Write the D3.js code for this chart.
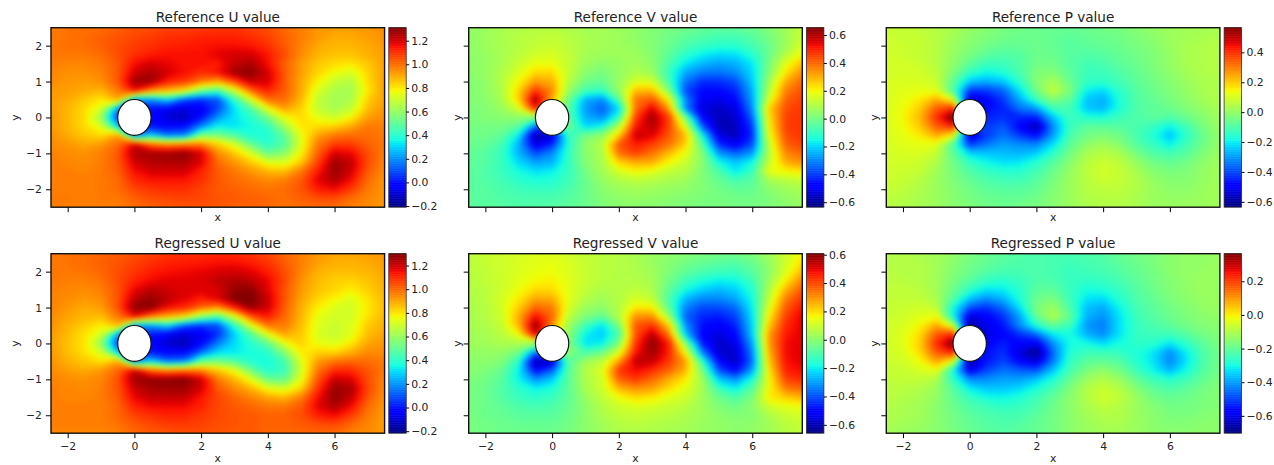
<!DOCTYPE html>
<meta charset="utf-8">
<style>
  body { margin: 0; background: #fff; }
  text { font-family: "DejaVu Sans", sans-serif; fill: #222; }
</style>
<script src="https://d3js.org/d3.v7.min.js"></script>
<div id="my_dataviz"></div>
<script>

// sample positions of the field, rows run top to bottom
var xCoords = [-2.5,-2,-1.5,-1,-.5,0,.5,1,1.5,2,2.5,3,3.5,4,4.5,5,5.5,6,6.5,7,7.5];
var yCoords = [2.5,2.25,2,1.75,1.5,1.25,1,.75,.5,.25,0,-.25,-.5,-.75,-1,-1.25,-1.5,-1.75,-2,-2.25,-2.5];
var xTicks = [-2,0,2,4,6];
var yTicks = [-2,-1,0,1,2];
var cylinder = {x: 0, y: 0, r: 0.5};

var titles = ["Reference U value","Reference V value","Reference P value","Regressed U value","Regressed V value","Regressed P value"];
var colorDomains = [[-.21,1.31],[-.636,.653],[-.636,.565],[-.217,1.3],[-.659,.607],[-.703,.364]];
var colorTicks = [
  [-.2,0,.2,.4,.6,.8,1,1.2],
  [-.6,-.4,-.2,0,.2,.4,.6],
  [-.6,-.4,-.2,0,.2,.4],
  [-.2,0,.2,.4,.6,.8,1,1.2],
  [-.6,-.4,-.2,0,.2,.4,.6],
  [-.6,-.4,-.2,0,.2]
];

var refU = [
.98,.99,1,1,1.02,1.04,1.05,1.07,1.08,1.08,1.09,1.09,1.07,1.05,1,.97,.93,.92,.92,.93,.95,
.98,.99,1,1.02,1.04,1.06,1.08,1.1,1.1,1.12,1.12,1.12,1.1,1.07,1.02,.97,.93,.9,.9,.92,.94,
.98,1,1,1.02,1.05,1.08,1.1,1.12,1.13,1.14,1.15,1.15,1.14,1.1,1.03,.96,.9,.88,.88,.9,.93,
.98,.98,.98,1,1.05,1.1,1.13,1.15,1.15,1.15,1.18,1.2,1.2,1.14,1.05,.95,.88,.86,.86,.89,.92,
.97,.96,.96,.98,1.03,1.15,1.2,1.17,1.15,1.15,1.13,1.22,1.25,1.15,1.02,.92,.85,.82,.8,.85,.92,
.96,.94,.94,.96,1.03,1.2,1.25,1.2,1.15,1.1,1.15,1.27,1.3,1.2,1.03,.92,.83,.76,.72,.83,.92,
.95,.93,.92,.94,1.03,1.27,1.28,1.12,1.08,.98,.9,1.05,1.22,1.2,1.03,.9,.78,.68,.65,.82,.92,
.93,.92,.9,.88,.98,1.15,.95,.88,.8,.55,.45,.7,1,1.12,1.03,.9,.72,.64,.63,.8,.92,
.92,.9,.85,.8,.9,.2,.2,.3,.1,.05,.1,.42,.72,1,1,.88,.68,.62,.64,.84,.92,
.92,.88,.82,.72,.2,0,0,-.05,-.08,-.05,.08,.32,.48,.75,.92,.84,.68,.63,.68,.87,.93,
.93,.88,.82,.6,.05,0,-.02,-.1,-.14,0,.2,.32,.4,.54,.75,.82,.74,.7,.78,.92,.95,
.93,.88,.82,.72,.3,0,0,-.02,0,.18,.35,.32,.36,.42,.62,.8,.82,.84,.9,.98,.97,
.94,.9,.85,.82,.92,.15,.3,.15,.18,.55,.55,.48,.38,.38,.5,.75,.92,.98,1,1,.98,
.95,.93,.9,.93,1,1.2,1,.95,.98,.98,.85,.72,.52,.4,.48,.74,.98,1.08,1.08,1.02,.98,
.96,.95,.94,.97,1.03,1.25,1.27,1.27,1.3,1.2,.95,.85,.72,.52,.58,.78,1.02,1.2,1.17,1.05,.97,
.97,.96,.95,.97,1.03,1.2,1.24,1.25,1.25,1.18,1,.93,.85,.74,.72,.85,1.07,1.27,1.22,1.05,.96,
.97,.97,.96,.98,1.02,1.15,1.2,1.2,1.2,1.12,1.03,.98,.93,.88,.87,.98,1.13,1.28,1.2,1.03,.95,
.97,.97,.97,.98,1,1.11,1.14,1.14,1.14,1.1,1.03,1,.98,.95,.97,1.03,1.18,1.25,1.15,1,.93,
.97,.97,.97,.98,1,1.06,1.09,1.1,1.1,1.07,1.03,1.02,1,.99,1,1.04,1.13,1.16,1.08,.98,.93,
.98,.98,.97,.98,.98,1.02,1.05,1.06,1.07,1.06,1.04,1.03,1.02,1.01,1,1.02,1.05,1.05,1,.96,.93,
.97,.97,.97,.97,.97,1,1.02,1.03,1.04,1.04,1.03,1.02,1.02,1,1,1,1,1,.97,.95,.93
];

var refV = [
.04,.06,.08,.09,.1,.1,.09,.07,.07,.06,.04,.02,0,-.01,-.03,-.04,-.03,-.02,.02,.07,.12,
.04,.06,.08,.1,.11,.12,.1,.08,.07,.06,.04,.02,-.01,-.04,-.06,-.08,-.08,-.05,0,.06,.13,
.04,.06,.08,.1,.12,.13,.11,.08,.07,.06,.05,.02,-.02,-.07,-.1,-.12,-.12,-.08,-.02,.06,.15,
.03,.05,.08,.11,.14,.15,.12,.07,.06,.06,.06,.03,-.04,-.12,-.17,-.2,-.19,-.13,-.02,.1,.2,
.03,.05,.08,.13,.18,.18,.12,.06,.03,.05,.07,.04,-.07,-.18,-.24,-.27,-.25,-.18,0,.17,.28,
.03,.05,.09,.16,.24,.24,.12,.03,0,.05,.09,.06,-.1,-.26,-.32,-.33,-.3,-.2,.02,.22,.35,
.02,.04,.1,.2,.33,.3,.1,-.01,-.03,.05,.15,.15,-.07,-.33,-.42,-.42,-.38,-.22,.06,.3,.4,
.02,.04,.09,.25,.47,.35,.05,-.08,-.1,.05,.28,.28,.02,-.38,-.47,-.47,-.43,-.25,.1,.36,.43,
.02,.03,.08,.25,.62,.3,-.02,-.25,-.3,-.05,.38,.42,.2,-.3,-.5,-.52,-.47,-.27,.15,.4,.45,
.01,.02,.06,.15,.5,.2,-.05,-.28,-.36,-.2,.38,.55,.32,-.3,-.53,-.56,-.52,-.3,.25,.43,.47,
.01,.02,.03,.04,0,0,-.05,-.25,-.3,-.1,.45,.62,.45,0,-.48,-.57,-.55,-.35,.22,.45,.47,
0,0,0,-.05,-.35,-.2,0,-.2,-.15,.1,.5,.6,.45,.15,-.35,-.57,-.57,-.4,.2,.45,.47,
-.01,-.01,-.04,-.18,-.6,-.55,-.1,0,.05,.25,.58,.55,.42,.28,-.15,-.52,-.57,-.42,.17,.43,.47,
-.02,-.03,-.08,-.25,-.52,-.42,-.12,.04,.1,.42,.5,.45,.38,.25,-.05,-.42,-.5,-.38,.12,.4,.45,
-.03,-.05,-.1,-.25,-.38,-.3,-.1,.03,.08,.38,.45,.38,.28,.18,.02,-.28,-.35,-.28,.1,.35,.4,
-.03,-.05,-.1,-.2,-.27,-.25,-.1,.02,.08,.25,.3,.3,.2,.13,.03,-.15,-.22,-.15,.12,.3,.34,
-.04,-.06,-.1,-.15,-.19,-.17,-.1,0,.07,.15,.2,.17,.12,.1,.02,-.07,-.18,-.1,.18,.2,.22,
-.04,-.06,-.08,-.12,-.14,-.13,-.09,-.02,.05,.09,.11,.1,.08,.06,.02,-.03,-.08,-.05,.07,.1,.12,
-.04,-.05,-.07,-.09,-.1,-.1,-.07,-.02,.03,.06,.07,.06,.05,.04,.02,-.01,-.03,-.03,.03,.06,.08,
-.04,-.05,-.06,-.07,-.07,-.07,-.05,-.02,.02,.04,.05,.04,.03,.02,.01,0,-.01,-.01,.01,.04,.06,
-.04,-.05,-.05,-.06,-.06,-.05,-.04,-.02,.01,.03,.03,.03,.02,.01,0,0,0,0,.01,.03,.05
];

var refP = [
.07,.07,.06,.05,.03,0,-.02,-.04,-.05,-.06,-.07,-.07,-.06,-.05,-.04,-.02,0,.01,.02,.03,.03,
.08,.07,.07,.05,.02,-.01,-.03,-.05,-.06,-.06,-.07,-.08,-.07,-.06,-.05,-.03,-.01,.01,.02,.03,.04,
.08,.08,.07,.05,.01,-.02,-.05,-.07,-.07,-.06,-.07,-.09,-.08,-.07,-.06,-.04,-.02,.01,.03,.04,.04,
.09,.08,.07,.05,0,-.04,-.08,-.1,-.09,-.06,-.06,-.09,-.1,-.09,-.07,-.05,-.03,0,.03,.04,.04,
.09,.09,.08,.05,-.01,-.08,-.13,-.13,-.1,-.05,-.05,-.09,-.12,-.11,-.08,-.06,-.03,0,.03,.04,.04,
.09,.09,.09,.06,-.03,-.14,-.19,-.17,-.11,-.03,-.02,-.08,-.13,-.13,-.1,-.07,-.04,-.01,.02,.04,.04,
.1,.1,.1,.08,-.08,-.25,-.28,-.25,-.15,-.02,.03,-.06,-.14,-.15,-.12,-.08,-.05,-.02,.01,.03,.04,
.1,.11,.12,.11,-.1,-.42,-.42,-.37,-.22,-.05,.07,-.03,-.2,-.23,-.15,-.09,-.06,-.03,0,.03,.04,
.1,.12,.16,.24,.1,-.58,-.5,-.42,-.28,-.13,-.02,-.08,-.25,-.28,-.17,-.1,-.07,-.04,-.01,.02,.04,
.1,.13,.2,.34,.42,-.5,-.48,-.45,-.35,-.3,-.13,-.12,-.25,-.27,-.17,-.1,-.08,-.06,-.03,0,.03,
.1,.14,.22,.4,.6,-.2,-.45,-.43,-.45,-.45,-.26,-.13,-.16,-.17,-.13,-.1,-.08,-.1,-.06,-.02,.02,
.1,.13,.2,.34,.42,-.4,-.42,-.38,-.5,-.6,-.32,-.13,-.08,-.08,-.09,-.11,-.14,-.2,-.12,-.04,.01,
.1,.12,.16,.24,.13,-.58,-.42,-.35,-.42,-.48,-.3,-.11,-.05,-.03,-.05,-.11,-.17,-.26,-.15,-.06,0,
.1,.11,.12,.11,-.1,-.42,-.35,-.3,-.32,-.33,-.22,-.08,-.01,.02,-.02,-.09,-.14,-.2,-.12,-.05,0,
.09,.1,.1,.07,-.08,-.23,-.25,-.26,-.27,-.24,-.15,-.05,.03,.05,.03,-.04,-.1,-.12,-.09,-.03,.01,
.09,.09,.08,.04,-.05,-.14,-.19,-.22,-.21,-.16,-.09,-.02,.05,.08,.06,0,-.05,-.07,-.05,-.01,.02,
.08,.08,.07,.02,-.04,-.1,-.14,-.16,-.16,-.12,-.06,0,.06,.09,.07,.03,-.02,-.04,-.03,0,.02,
.08,.07,.05,.01,-.03,-.07,-.1,-.12,-.12,-.09,-.04,.01,.05,.08,.07,.04,0,-.02,-.02,0,.02,
.07,.06,.04,.01,-.02,-.05,-.08,-.09,-.09,-.07,-.03,.01,.05,.06,.06,.04,.01,-.01,-.01,.01,.02,
.06,.05,.03,.01,-.02,-.04,-.06,-.07,-.07,-.05,-.02,.01,.04,.05,.05,.03,.01,0,0,.01,.02,
.05,.04,.03,.01,-.01,-.03,-.05,-.06,-.05,-.04,-.02,.01,.03,.04,.04,.03,.01,.01,.01,.01,.02
];

var regU = [
.97,.98,.99,1,1.02,1.04,1.06,1.08,1.09,1.09,1.1,1.1,1.08,1.05,1,.96,.92,.9,.9,.91,.92,
.97,.98,.99,1.01,1.03,1.06,1.09,1.11,1.12,1.13,1.14,1.14,1.12,1.08,1.02,.96,.91,.88,.88,.89,.91,
.97,.97,.98,1,1.04,1.08,1.12,1.14,1.15,1.16,1.18,1.19,1.17,1.12,1.04,.95,.88,.86,.86,.87,.9,
.97,.96,.96,.98,1.04,1.11,1.15,1.17,1.17,1.18,1.22,1.24,1.22,1.16,1.05,.93,.86,.83,.82,.85,.89,
.96,.95,.94,.96,1.03,1.16,1.22,1.2,1.17,1.17,1.18,1.27,1.28,1.17,1.03,.92,.85,.82,.78,.83,.88,
.95,.94,.92,.94,1.03,1.22,1.27,1.22,1.17,1.12,1.18,1.3,1.31,1.2,1.03,.9,.82,.77,.72,.8,.87,
.95,.92,.89,.91,1.03,1.28,1.29,1.14,1.1,1,.93,1.1,1.27,1.2,1.01,.88,.78,.72,.7,.79,.86,
.94,.9,.87,.86,.97,1.15,.96,.88,.8,.57,.45,.7,1.02,1.12,1,.87,.74,.7,.7,.8,.87,
.93,.88,.83,.78,.88,.2,.2,.3,.1,.05,.08,.4,.72,.98,.97,.86,.72,.68,.72,.84,.88,
.92,.86,.8,.7,.2,0,0,-.06,-.1,-.07,.04,.28,.47,.72,.9,.84,.71,.68,.73,.86,.9,
.91,.85,.8,.58,.05,0,-.03,-.12,-.15,-.03,.16,.3,.39,.5,.72,.83,.74,.72,.79,.9,.92,
.92,.86,.8,.7,.3,0,0,-.03,-.03,.13,.3,.32,.36,.39,.56,.78,.83,.82,.88,.94,.94,
.93,.88,.84,.8,.9,.15,.3,.14,.17,.5,.53,.48,.38,.36,.44,.72,.92,.98,1,.99,.97,
.94,.91,.89,.92,1,1.2,1,.95,.98,.96,.85,.74,.53,.38,.42,.7,.98,1.1,1.1,1.03,.97,
.95,.94,.93,.95,1.03,1.26,1.28,1.28,1.3,1.2,.97,.87,.73,.52,.5,.74,1.03,1.21,1.18,1.04,.95,
.96,.95,.94,.96,1.03,1.2,1.25,1.26,1.26,1.19,1.02,.94,.87,.74,.7,.82,1.08,1.27,1.24,1.05,.94,
.96,.95,.95,.96,1.02,1.16,1.21,1.21,1.21,1.13,1.05,1,.95,.9,.87,.96,1.14,1.28,1.21,1.03,.93,
.96,.96,.96,.96,1,1.11,1.15,1.15,1.15,1.11,1.05,1.02,1,.97,.97,1.02,1.17,1.24,1.15,.99,.92,
.96,.96,.96,.96,1,1.06,1.09,1.11,1.11,1.08,1.05,1.03,1.02,1.01,1.01,1.04,1.12,1.15,1.07,.97,.91,
.96,.96,.96,.96,.98,1.02,1.05,1.07,1.07,1.06,1.04,1.03,1.02,1.01,1.01,1.02,1.04,1.05,1,.95,.91,
.95,.95,.95,.95,.96,1,1.02,1.03,1.04,1.04,1.03,1.02,1.02,1,1,1,1,.99,.96,.94,.91
];

var regV = [
.07,.09,.1,.11,.12,.12,.1,.08,.07,.06,.04,.02,0,-.01,-.03,-.04,-.04,-.02,.03,.1,.16,
.07,.09,.1,.12,.13,.14,.12,.09,.07,.06,.05,.02,-.01,-.04,-.06,-.08,-.09,-.06,.01,.1,.2,
.07,.08,.1,.12,.14,.15,.12,.09,.07,.06,.05,.03,-.02,-.07,-.1,-.12,-.13,-.08,0,.12,.25,
.06,.08,.1,.13,.16,.17,.13,.09,.07,.06,.06,.04,-.04,-.12,-.17,-.2,-.19,-.12,.02,.17,.32,
.06,.07,.1,.15,.2,.2,.13,.08,.05,.06,.08,.05,-.07,-.18,-.24,-.27,-.24,-.16,.05,.25,.38,
.05,.07,.11,.18,.27,.26,.13,.06,.03,.06,.11,.08,-.1,-.27,-.33,-.33,-.29,-.18,.08,.32,.43,
.05,.06,.11,.22,.36,.33,.11,.02,0,.06,.18,.17,-.07,-.34,-.41,-.41,-.37,-.2,.12,.37,.47,
.04,.06,.1,.26,.48,.36,.07,-.02,-.07,.06,.3,.3,.03,-.38,-.46,-.47,-.42,-.22,.17,.41,.5,
.04,.05,.09,.25,.6,.3,.02,-.12,-.22,-.03,.38,.43,.22,-.32,-.49,-.52,-.46,-.24,.22,.44,.5,
.03,.04,.07,.15,.5,.2,0,-.2,-.25,-.1,.38,.55,.33,-.25,-.51,-.56,-.5,-.25,.28,.46,.5,
.03,.03,.05,.05,0,0,-.02,-.22,-.2,-.02,.42,.6,.45,0,-.46,-.58,-.54,-.3,.28,.48,.5,
.01,.01,.01,-.05,-.35,-.22,.01,-.1,-.05,.12,.46,.58,.45,.15,-.33,-.57,-.57,-.34,.25,.48,.5,
0,0,-.02,-.15,-.62,-.58,-.08,.03,.08,.28,.54,.53,.42,.28,-.13,-.5,-.58,-.36,.22,.47,.5,
-.01,-.02,-.06,-.2,-.5,-.38,-.08,.06,.12,.42,.48,.43,.36,.25,-.03,-.4,-.5,-.3,.18,.45,.48,
-.02,-.04,-.08,-.2,-.32,-.25,-.07,.05,.1,.36,.42,.35,.26,.18,.03,-.25,-.32,-.17,.15,.4,.44,
-.03,-.05,-.09,-.15,-.2,-.17,-.07,.04,.1,.25,.3,.28,.2,.13,.04,-.13,-.2,-.08,.15,.33,.36,
-.03,-.05,-.09,-.13,-.15,-.13,-.07,.02,.08,.15,.2,.18,.13,.1,.03,-.05,-.1,-.03,.18,.22,.25,
-.03,-.05,-.07,-.1,-.11,-.1,-.06,0,.06,.1,.12,.11,.09,.07,.03,-.02,-.05,0,.1,.13,.15,
-.03,-.05,-.06,-.08,-.08,-.08,-.05,0,.05,.08,.09,.08,.07,.05,.03,0,-.02,-.01,.05,.09,.11,
-.03,-.04,-.05,-.06,-.06,-.06,-.04,0,.03,.06,.07,.06,.05,.04,.02,.01,0,0,.03,.07,.09,
-.03,-.04,-.05,-.05,-.05,-.05,-.03,0,.03,.05,.05,.05,.04,.03,.02,.01,0,.01,.03,.06,.08
];

var regP = [
-.1,-.1,-.11,-.12,-.14,-.17,-.19,-.21,-.22,-.23,-.24,-.24,-.23,-.22,-.2,-.18,-.17,-.15,-.14,-.14,-.13,
-.1,-.1,-.1,-.12,-.15,-.18,-.2,-.22,-.23,-.23,-.24,-.25,-.24,-.23,-.21,-.19,-.17,-.15,-.14,-.14,-.13,
-.09,-.1,-.1,-.12,-.16,-.19,-.22,-.24,-.24,-.23,-.24,-.26,-.25,-.24,-.22,-.2,-.18,-.15,-.14,-.13,-.13,
-.09,-.09,-.1,-.12,-.17,-.22,-.26,-.28,-.26,-.23,-.23,-.26,-.27,-.26,-.24,-.21,-.18,-.16,-.14,-.13,-.13,
-.08,-.08,-.09,-.12,-.19,-.27,-.33,-.32,-.28,-.21,-.21,-.26,-.3,-.29,-.26,-.22,-.19,-.16,-.14,-.13,-.13,
-.08,-.08,-.08,-.11,-.22,-.36,-.42,-.38,-.29,-.19,-.17,-.25,-.33,-.34,-.28,-.23,-.2,-.17,-.15,-.13,-.13,
-.07,-.07,-.06,-.08,-.3,-.48,-.52,-.46,-.33,-.17,-.13,-.23,-.37,-.39,-.31,-.24,-.21,-.18,-.16,-.14,-.13,
-.07,-.06,-.04,-.02,-.3,-.62,-.58,-.52,-.4,-.2,-.1,-.2,-.38,-.42,-.33,-.25,-.22,-.19,-.17,-.15,-.14,
-.06,-.05,-.01,.08,-.08,-.7,-.6,-.55,-.42,-.28,-.2,-.25,-.41,-.44,-.33,-.26,-.23,-.21,-.18,-.16,-.15,
-.06,-.04,.02,.17,.24,-.65,-.62,-.57,-.52,-.46,-.33,-.3,-.38,-.42,-.33,-.26,-.25,-.25,-.22,-.18,-.16,
-.06,-.04,.03,.22,.38,-.3,-.58,-.54,-.58,-.6,-.42,-.3,-.3,-.34,-.3,-.27,-.28,-.33,-.27,-.21,-.17,
-.06,-.05,.02,.17,.24,-.55,-.56,-.52,-.62,-.7,-.46,-.28,-.25,-.25,-.26,-.29,-.33,-.42,-.32,-.23,-.18,
-.07,-.06,-.02,.08,-.05,-.7,-.55,-.5,-.57,-.62,-.44,-.26,-.21,-.2,-.22,-.28,-.33,-.43,-.33,-.23,-.18,
-.07,-.07,-.05,-.03,-.3,-.6,-.5,-.45,-.47,-.48,-.36,-.24,-.17,-.14,-.18,-.25,-.31,-.38,-.3,-.22,-.18,
-.08,-.08,-.08,-.1,-.27,-.42,-.42,-.4,-.4,-.36,-.29,-.2,-.13,-.1,-.13,-.2,-.25,-.28,-.25,-.2,-.17,
-.09,-.09,-.1,-.13,-.22,-.32,-.36,-.36,-.34,-.29,-.24,-.17,-.1,-.07,-.1,-.16,-.21,-.23,-.21,-.18,-.16,
-.09,-.1,-.11,-.14,-.2,-.26,-.3,-.31,-.29,-.25,-.2,-.15,-.1,-.06,-.08,-.13,-.18,-.2,-.19,-.17,-.16,
-.1,-.11,-.12,-.15,-.19,-.23,-.25,-.27,-.26,-.23,-.19,-.15,-.11,-.08,-.1,-.13,-.16,-.18,-.18,-.17,-.16,
-.1,-.11,-.12,-.15,-.18,-.21,-.23,-.24,-.24,-.21,-.18,-.15,-.12,-.1,-.1,-.13,-.15,-.17,-.17,-.16,-.15,
-.11,-.12,-.13,-.15,-.18,-.2,-.22,-.23,-.22,-.2,-.18,-.15,-.13,-.11,-.11,-.13,-.15,-.16,-.16,-.15,-.15,
-.12,-.13,-.14,-.15,-.17,-.19,-.21,-.22,-.21,-.2,-.18,-.15,-.13,-.12,-.12,-.13,-.15,-.15,-.15,-.15,-.15
];

var fields = [refU, refV, refP, regU, regV, regP];

var outer = {width: 1274, height: 465};
var panelLefts = [51, 468.7, 886.3];
var panelTops = [27.7, 253.7];
var panelW = 333.6, panelH = 179.5;
var cbGap = 4.2, cbW = 17.4;

// jet colormap, same break points as matplotlib
var jetR = d3.scaleLinear().domain([0,.35,.66,.89,1]).range([0,0,255,255,128]);
var jetG = d3.scaleLinear().domain([0,.125,.375,.64,.91,1]).range([0,0,255,255,0,0]);
var jetB = d3.scaleLinear().domain([0,.11,.34,.65,1]).range([128,255,255,0,0]);
function jet(t) {
  return d3.rgb(jetR(t), jetG(t), jetB(t)) + "";
}

var svg = d3.select("#my_dataviz")
  .append("svg")
  .attr("width", outer.width)
  .attr("height", outer.height)
  .style("display", "block");

var defs = svg.append("defs");

fields.forEach(function(values, i) {
  var col = i % 3, row = Math.floor(i / 3);
  var g = svg.append("g")
    .attr("transform", "translate(" + panelLefts[col] + "," + panelTops[row] + ")");

  var x = d3.scaleLinear().domain([-2.5, 7.5]).range([0, panelW]);
  var y = d3.scaleLinear().domain([-2.5, 2.5]).range([panelH, 0]);
  var dom = colorDomains[i];
  var t = d3.scaleLinear().domain(dom).range([0, 1]).clamp(true);

  defs.append("clipPath")
    .attr("id", "clip" + i)
    .append("rect")
    .attr("width", panelW)
    .attr("height", panelH);

  var nx = xCoords.length, ny = yCoords.length;
  var step = (dom[1] - dom[0]) / 128;
  var thresholds = d3.range(dom[0] - step * 8, dom[1], step);

  // contours are in grid units, sample i sits at i + 0.5; the outer ring is
  // pushed past the frame so the softening below has no white edge to pull in
  var gridX = d3.scaleLinear().domain([0, 0.5, nx - 0.5, nx]).range([-30, x(xCoords[0]), x(xCoords[nx - 1]), panelW + 30]);
  var gridY = d3.scaleLinear().domain([0, 0.5, ny - 0.5, ny]).range([-30, y(yCoords[0]), y(yCoords[ny - 1]), panelH + 30]);
  var path = d3.geoPath(d3.geoTransform({
    point: function(px, py) { this.stream.point(gridX(px), gridY(py)); }
  }));

  var contours = d3.contours()
    .size([nx, ny])
    .thresholds(thresholds)(values);

  g.append("g")
    .attr("clip-path", "url(#clip" + i + ")")
    .append("g")
    .style("filter", "blur(2.5px)")
    .selectAll("path")
    .data(contours)
    .enter().append("path")
    .attr("d", path)
    .attr("fill", function(d) { return jet(t(d.value + step / 2)); });

  g.append("ellipse")
    .attr("cx", x(cylinder.x))
    .attr("cy", y(cylinder.y))
    .attr("rx", x(cylinder.r) - x(0))
    .attr("ry", y(0) - y(cylinder.r))
    .attr("fill", "#fff")
    .attr("stroke", "#111")
    .attr("stroke-width", 1.2);

  // x axis, labels on the bottom row only
  g.append("g")
    .attr("transform", "translate(0," + panelH + ")")
    .call(d3.axisBottom(x).tickValues(xTicks).tickSize(5).tickPadding(4)
      .tickFormat(row === 1 ? d3.format("d") : ""));

  // y axis, labels on the left column only
  g.append("g")
    .call(d3.axisLeft(y).tickValues(yTicks).tickSize(5).tickPadding(4)
      .tickFormat(col === 0 ? d3.format("d") : ""));

  g.selectAll(".domain").remove();
  g.selectAll(".tick text").style("font-size", "10.8px");

  g.append("rect")
    .attr("width", panelW)
    .attr("height", panelH)
    .attr("fill", "none")
    .attr("stroke", "#111")
    .attr("stroke-width", 1.4);

  g.append("text")
    .attr("x", panelW / 2)
    .attr("y", -6)
    .attr("text-anchor", "middle")
    .style("font-size", "13.6px")
    .text(titles[i]);

  g.append("text")
    .attr("x", panelW / 2)
    .attr("y", row === 0 ? panelH + 14 : panelH + 29)
    .attr("text-anchor", "middle")
    .style("font-size", "10.8px")
    .text("x");

  g.append("text")
    .attr("transform", "translate(" + (col === 0 ? -32 : -8) + "," + (panelH / 2) + ") rotate(-90)")
    .attr("text-anchor", "middle")
    .style("font-size", "10.8px")
    .text("y");

  // colorbar
  var cb = g.append("g").attr("transform", "translate(" + (panelW + cbGap) + ",0)");
  var cy = d3.scaleLinear().domain(dom).range([panelH, 0]);
  cb.selectAll("rect.band")
    .data(d3.range(dom[0], dom[1], (dom[1] - dom[0]) / 256))
    .enter().append("rect")
    .attr("class", "band")
    .attr("x", 0)
    .attr("width", cbW)
    .attr("y", function(d) { return cy(d) - panelH / 256 - 0.5; })
    .attr("height", panelH / 256 + 0.5)
    .attr("fill", function(d) { return jet(t(d)); });
  cb.append("rect")
    .attr("width", cbW)
    .attr("height", panelH)
    .attr("fill", "none")
    .attr("stroke", "#333")
    .attr("stroke-width", 0.8);
  cb.append("g")
    .attr("transform", "translate(" + cbW + ",0)")
    .call(d3.axisRight(cy).tickValues(colorTicks[i]).tickSize(3).tickPadding(2).tickFormat(d3.format(".1f")))
    .call(function(s) { s.select(".domain").remove(); })
    .selectAll("text").style("font-size", "10.8px");
});
</script>
